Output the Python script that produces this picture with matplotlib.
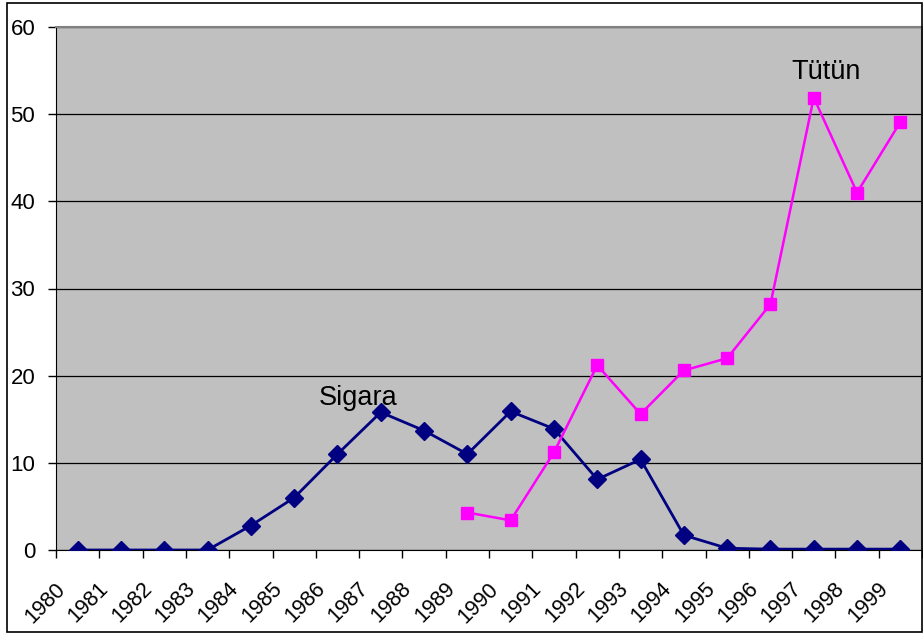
import numpy as np
import matplotlib
matplotlib.use("Agg")
import matplotlib.pyplot as plt
import matplotlib.transforms as mtransforms
from matplotlib.patches import Rectangle

plt.rcParams['font.family'] = ['Liberation Sans', 'DejaVu Sans']

# data
years = [str(y) for y in range(1980, 2000)]
sigara = [0, 0, 0, 0, 2.8, 6.0, 11.0, 15.8, 13.7, 11.0,
          15.9, 13.9, 8.1, 10.4, 1.7, 0.2, 0.1, 0.1, 0.1, 0.1]
tutun_years = [str(y) for y in range(1989, 2000)]
tutun = [4.3, 3.4, 11.2, 21.2, 15.6, 20.6, 22.0, 28.2, 51.9, 41.0, 49.1]

fig = plt.figure(figsize=(9.23, 6.35), dpi=100)
ax = fig.add_axes([56/923, 1 - 550/635, 866/923, 523/635])
ax.set_facecolor('#c0c0c0')

# outer frame round the whole chart
fig.patches.append(Rectangle((7/923, 3/635), 915/923, 629/635, transform=fig.transFigure,
                             fill=False, edgecolor='black', linewidth=1.2))

x = np.arange(len(years)) + 0.5
xt = np.array([years.index(y) for y in tutun_years]) + 0.5

ax.plot(x, sigara, color='#000080', marker='D', markersize=9, linewidth=2, zorder=3)
ax.plot(xt, tutun, color='#ff00ff', marker='s', markersize=8.5, linewidth=1.8, zorder=3)

ax.text(6.97, 16.6, 'Sigara', fontsize=19.5, ha='center', va='baseline')
ax.text(17.78, 54.0, 'Tütün', fontsize=19.5, ha='center', va='baseline')

ax.set_xlim(0, len(years))
ax.set_ylim(0, 60)
ax.set_yticks(range(0, 61, 10))
ax.yaxis.grid(True, color='black', linewidth=0.9)
ax.set_axisbelow(True)

# category boundary ticks, labels sit on minor ticks at centres
ax.set_xticks(np.arange(0, len(years) + 1))
ax.set_xticklabels([])
ax.set_xticks(x, minor=True)
ax.set_xticklabels(years, minor=True, rotation=45, ha='right', va='top',
                   rotation_mode='anchor', fontsize=15.5)
ax.tick_params(axis='x', which='major', length=6, width=1, direction='out')
ax.tick_params(axis='x', which='minor', length=0, pad=20.5)
ax.tick_params(axis='y', length=6, width=1, direction='out', labelsize=16, pad=9)

offset = mtransforms.ScaledTranslation(-23/100, 0, fig.dpi_scale_trans)
for lab in ax.get_xticklabels(minor=True):
    lab.set_transform(lab.get_transform() + offset)

for side in ['top', 'right']:
    ax.spines[side].set_color('#808080')
    ax.spines[side].set_linewidth(1.5)
ax.spines['left'].set_color('black')
ax.spines['bottom'].set_color('black')

fig.savefig('out.png', dpi=100)
